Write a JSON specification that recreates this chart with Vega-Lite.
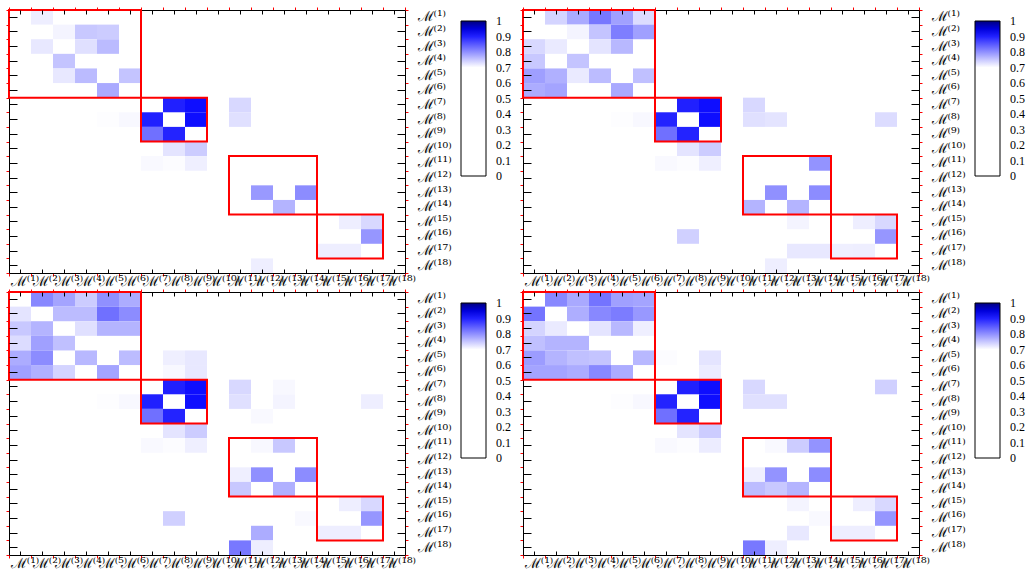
{
"$schema": "https://vega.github.io/schema/vega-lite/v6.json",
"background": "white",
"padding": {"left": 5, "top": 6, "right": 5, "bottom": 5},
"columns": 2,
"spacing": {"row": 19, "column": 118},
"bounds": "flush",
"resolve": {"scale": {"color": "independent"}, "legend": {"color": "independent"}},
"config": {"view": {"stroke": null}, "font": "DejaVu Serif"},
"datasets": {
"boxes": [{"x0":0,"x1":6,"y0":0,"y1":6},{"x0":6,"x1":9,"y0":6,"y1":9},{"x0":10,"x1":14,"y0":10,"y1":14},{"x0":14,"x1":17,"y0":14,"y1":17}],
"p1": [{"r":1,"c":2,"v":0.715},
{"r":2,"c":3,"v":0.71},{"r":2,"c":4,"v":0.75},{"r":2,"c":5,"v":0.746},
{"r":3,"c":2,"v":0.721},{"r":3,"c":4,"v":0.728},{"r":3,"c":5,"v":0.761},
{"r":4,"c":3,"v":0.753},
{"r":5,"c":3,"v":0.721},{"r":5,"c":4,"v":0.761},{"r":5,"c":6,"v":0.753},
{"r":6,"c":5,"v":0.777},
{"r":7,"c":8,"v":0.901},{"r":7,"c":9,"v":0.917},{"r":7,"c":11,"v":0.735},
{"r":8,"c":5,"v":0.702},{"r":8,"c":6,"v":0.706},{"r":8,"c":7,"v":0.901},{"r":8,"c":9,"v":0.917},{"r":8,"c":11,"v":0.728},
{"r":9,"c":7,"v":0.829},{"r":9,"c":8,"v":0.898},
{"r":10,"c":8,"v":0.724},{"r":10,"c":9,"v":0.746},
{"r":11,"c":7,"v":0.705},{"r":11,"c":8,"v":0.703},{"r":11,"c":9,"v":0.714},
{"r":13,"c":12,"v":0.792},{"r":13,"c":14,"v":0.804},
{"r":14,"c":13,"v":0.768},
{"r":15,"c":16,"v":0.715},{"r":15,"c":17,"v":0.735},
{"r":16,"c":17,"v":0.795},
{"r":17,"c":15,"v":0.715},{"r":17,"c":16,"v":0.715},
{"r":18,"c":12,"v":0.715}],
"p2": [{"r":1,"c":2,"v":0.739},{"r":1,"c":3,"v":0.777},{"r":1,"c":4,"v":0.823},{"r":1,"c":5,"v":0.786},{"r":1,"c":6,"v":0.732},
{"r":2,"c":3,"v":0.71},{"r":2,"c":4,"v":0.753},{"r":2,"c":5,"v":0.816},{"r":2,"c":6,"v":0.786},
{"r":3,"c":1,"v":0.735},{"r":3,"c":2,"v":0.719},{"r":3,"c":4,"v":0.724},{"r":3,"c":5,"v":0.764},
{"r":4,"c":1,"v":0.75},{"r":4,"c":3,"v":0.753},
{"r":5,"c":1,"v":0.787},{"r":5,"c":2,"v":0.771},{"r":5,"c":3,"v":0.719},{"r":5,"c":4,"v":0.76},{"r":5,"c":6,"v":0.757},
{"r":6,"c":1,"v":0.775},{"r":6,"c":2,"v":0.782},{"r":6,"c":5,"v":0.778},
{"r":7,"c":8,"v":0.901},{"r":7,"c":9,"v":0.917},{"r":7,"c":11,"v":0.735},
{"r":8,"c":5,"v":0.702},{"r":8,"c":6,"v":0.706},{"r":8,"c":7,"v":0.898},{"r":8,"c":9,"v":0.917},{"r":8,"c":11,"v":0.728},{"r":8,"c":12,"v":0.724},{"r":8,"c":17,"v":0.732},
{"r":9,"c":7,"v":0.829},{"r":9,"c":8,"v":0.898},
{"r":10,"c":8,"v":0.724},{"r":10,"c":9,"v":0.746},
{"r":11,"c":7,"v":0.705},{"r":11,"c":8,"v":0.703},{"r":11,"c":9,"v":0.714},{"r":11,"c":14,"v":0.797},
{"r":13,"c":12,"v":0.8},{"r":13,"c":14,"v":0.804},
{"r":14,"c":11,"v":0.768},{"r":14,"c":13,"v":0.768},
{"r":15,"c":13,"v":0.71},{"r":15,"c":16,"v":0.715},{"r":15,"c":17,"v":0.735},
{"r":16,"c":8,"v":0.742},{"r":16,"c":17,"v":0.795},
{"r":17,"c":13,"v":0.721},{"r":17,"c":14,"v":0.721},{"r":17,"c":15,"v":0.714},{"r":17,"c":16,"v":0.715},
{"r":18,"c":12,"v":0.715}],
"p3": [{"r":1,"c":2,"v":0.807},{"r":1,"c":3,"v":0.782},{"r":1,"c":4,"v":0.746},{"r":1,"c":5,"v":0.8},{"r":1,"c":6,"v":0.775},
{"r":2,"c":1,"v":0.724},{"r":2,"c":3,"v":0.76},{"r":2,"c":4,"v":0.76},{"r":2,"c":5,"v":0.829},{"r":2,"c":6,"v":0.804},
{"r":3,"c":1,"v":0.75},{"r":3,"c":2,"v":0.768},{"r":3,"c":4,"v":0.728},{"r":3,"c":5,"v":0.768},{"r":3,"c":6,"v":0.768},
{"r":4,"c":1,"v":0.732},{"r":4,"c":2,"v":0.786},{"r":4,"c":3,"v":0.757},
{"r":5,"c":1,"v":0.775},{"r":5,"c":2,"v":0.804},{"r":5,"c":4,"v":0.764},{"r":5,"c":6,"v":0.76},{"r":5,"c":8,"v":0.714},{"r":5,"c":9,"v":0.721},
{"r":6,"c":1,"v":0.786},{"r":6,"c":2,"v":0.771},{"r":6,"c":3,"v":0.739},{"r":6,"c":5,"v":0.782},{"r":6,"c":8,"v":0.706},{"r":6,"c":9,"v":0.721},
{"r":7,"c":8,"v":0.901},{"r":7,"c":9,"v":0.917},{"r":7,"c":11,"v":0.735},{"r":7,"c":13,"v":0.706},
{"r":8,"c":5,"v":0.702},{"r":8,"c":6,"v":0.706},{"r":8,"c":7,"v":0.901},{"r":8,"c":9,"v":0.917},{"r":8,"c":11,"v":0.728},{"r":8,"c":13,"v":0.71},{"r":8,"c":17,"v":0.715},
{"r":9,"c":7,"v":0.829},{"r":9,"c":8,"v":0.898},{"r":9,"c":12,"v":0.705},
{"r":10,"c":8,"v":0.724},{"r":10,"c":9,"v":0.746},
{"r":11,"c":7,"v":0.705},{"r":11,"c":8,"v":0.703},{"r":11,"c":9,"v":0.714},{"r":11,"c":12,"v":0.706},{"r":11,"c":13,"v":0.75},
{"r":13,"c":11,"v":0.714},{"r":13,"c":12,"v":0.8},{"r":13,"c":14,"v":0.804},
{"r":14,"c":11,"v":0.75},{"r":14,"c":13,"v":0.771},
{"r":15,"c":16,"v":0.715},{"r":15,"c":17,"v":0.735},
{"r":16,"c":8,"v":0.742},{"r":16,"c":14,"v":0.705},{"r":16,"c":17,"v":0.795},
{"r":17,"c":12,"v":0.775},{"r":17,"c":15,"v":0.715},{"r":17,"c":16,"v":0.715},
{"r":18,"c":11,"v":0.822},{"r":18,"c":12,"v":0.715}],
"p4": [{"r":1,"c":2,"v":0.807},{"r":1,"c":3,"v":0.778},{"r":1,"c":4,"v":0.825},{"r":1,"c":5,"v":0.786},{"r":1,"c":6,"v":0.782},
{"r":2,"c":1,"v":0.825},{"r":2,"c":3,"v":0.773},{"r":2,"c":4,"v":0.807},{"r":2,"c":5,"v":0.818},{"r":2,"c":6,"v":0.793},
{"r":3,"c":1,"v":0.739},{"r":3,"c":2,"v":0.719},{"r":3,"c":4,"v":0.724},{"r":3,"c":5,"v":0.764},{"r":3,"c":6,"v":0.714},
{"r":4,"c":1,"v":0.757},{"r":4,"c":2,"v":0.768},{"r":4,"c":3,"v":0.768},
{"r":5,"c":1,"v":0.789},{"r":5,"c":2,"v":0.768},{"r":5,"c":3,"v":0.757},{"r":5,"c":4,"v":0.753},{"r":5,"c":6,"v":0.764},{"r":5,"c":7,"v":0.703},{"r":5,"c":9,"v":0.724},
{"r":6,"c":1,"v":0.782},{"r":6,"c":2,"v":0.782},{"r":6,"c":3,"v":0.775},{"r":6,"c":4,"v":0.807},{"r":6,"c":5,"v":0.775},{"r":6,"c":9,"v":0.717},
{"r":7,"c":8,"v":0.901},{"r":7,"c":9,"v":0.917},{"r":7,"c":11,"v":0.735},{"r":7,"c":17,"v":0.742},
{"r":8,"c":5,"v":0.702},{"r":8,"c":6,"v":0.706},{"r":8,"c":7,"v":0.898},{"r":8,"c":9,"v":0.917},{"r":8,"c":11,"v":0.728},{"r":8,"c":12,"v":0.728},
{"r":9,"c":7,"v":0.829},{"r":9,"c":8,"v":0.898},
{"r":10,"c":8,"v":0.724},{"r":10,"c":9,"v":0.746},
{"r":11,"c":7,"v":0.705},{"r":11,"c":8,"v":0.703},{"r":11,"c":9,"v":0.717},{"r":11,"c":12,"v":0.705},{"r":11,"c":13,"v":0.746},{"r":11,"c":14,"v":0.797},
{"r":13,"c":11,"v":0.714},{"r":13,"c":12,"v":0.797},{"r":13,"c":14,"v":0.804},
{"r":14,"c":11,"v":0.76},{"r":14,"c":12,"v":0.75},{"r":14,"c":13,"v":0.768},
{"r":15,"c":13,"v":0.71},{"r":15,"c":16,"v":0.715},{"r":15,"c":17,"v":0.735},
{"r":16,"c":14,"v":0.705},{"r":16,"c":17,"v":0.795},
{"r":17,"c":13,"v":0.721},{"r":17,"c":15,"v":0.715},{"r":17,"c":16,"v":0.715},
{"r":18,"c":11,"v":0.822},{"r":18,"c":12,"v":0.715}]
},
"concat": [
{"width":396,"height":263,
 "resolve":{"scale":{"x":"independent","y":"independent"},"axis":{"x":"independent","y":"independent"}},
 "layer":[
  {"data":{"name":"p1"},"mark":{"type":"rect"},
   "encoding":{
    "x":{"field":"c","type":"ordinal","scale":{"domain":[1,2,3,4,5,6,7,8,9,10,11,12,13,14,15,16,17,18],"paddingInner":0,"paddingOuter":0},"axis":{"orient":"bottom","title":null,"domain":false,"ticks":false,"tickSize":0,"tickBand":"center","bandPosition":0.5,"labelExpr":"['ℳ⁽¹⁾','ℳ⁽²⁾','ℳ⁽³⁾','ℳ⁽⁴⁾','ℳ⁽⁵⁾','ℳ⁽⁶⁾','ℳ⁽⁷⁾','ℳ⁽⁸⁾','ℳ⁽⁹⁾','ℳ⁽¹⁰⁾','ℳ⁽¹¹⁾','ℳ⁽¹²⁾','ℳ⁽¹³⁾','ℳ⁽¹⁴⁾','ℳ⁽¹⁵⁾','ℳ⁽¹⁶⁾','ℳ⁽¹⁷⁾','ℳ⁽¹⁸⁾'][datum.value-1]","labelFont":"DejaVu Serif","labelFontSize":14,"labelColor":"black","labelOverlap":false,"labelAngle":0,"labelPadding":1,"labelOffset":5,"grid":true,"gridColor":"black","gridOpacity":1,"gridWidth":1,"gridDash":[4,255,4,2000],"zindex":1}},
    "y":{"field":"r","type":"ordinal","scale":{"domain":[1,2,3,4,5,6,7,8,9,10,11,12,13,14,15,16,17,18],"paddingInner":0,"paddingOuter":0},"axis":{"orient":"right","title":null,"domain":false,"ticks":false,"tickSize":0,"tickBand":"center","bandPosition":0.5,"labelExpr":"['ℳ⁽¹⁾','ℳ⁽²⁾','ℳ⁽³⁾','ℳ⁽⁴⁾','ℳ⁽⁵⁾','ℳ⁽⁶⁾','ℳ⁽⁷⁾','ℳ⁽⁸⁾','ℳ⁽⁹⁾','ℳ⁽¹⁰⁾','ℳ⁽¹¹⁾','ℳ⁽¹²⁾','ℳ⁽¹³⁾','ℳ⁽¹⁴⁾','ℳ⁽¹⁵⁾','ℳ⁽¹⁶⁾','ℳ⁽¹⁷⁾','ℳ⁽¹⁸⁾'][datum.value-1]","labelFont":"DejaVu Serif","labelFontSize":14,"labelColor":"black","labelOverlap":false,"labelPadding":12,"grid":true,"gridColor":"black","gridOpacity":1,"gridWidth":1,"gridDash":[8,380,8,2000],"zindex":1}},
    "color":{"field":"v","type":"quantitative","scale":{"domain":[0,0.7,0.93,1],"range":["#ffffff","#ffffff","#0000ff","#000080"],"interpolate":"rgb"},"legend":{"title":null,"orient":"right","direction":"vertical","gradientLength":155,"gradientThickness":25,"gradientStrokeColor":"black","gradientStrokeWidth":1,"values":[0,0.1,0.2,0.3,0.4,0.5,0.6,0.7,0.8,0.9,1],"format":"~g","labelFont":"Liberation Serif","labelFontSize":12,"labelColor":"black","labelOffset":10,"labelOverlap":false,"labelBaseline":"middle","offset":-2,"padding":11,"encode":{"labels":{"update":{"baseline":{"value":"middle"}}}}}}}},
  {"data":{"name":"boxes"},"mark":{"type":"rect","filled":false,"color":"#ff0000","strokeWidth":2},
   "encoding":{
    "x":{"field":"x0","type":"quantitative","scale":{"domain":[0,18],"nice":false,"zero":false},"axis":{"orient":"bottom","title":null,"values":[0,1,2,3,4,5,6,7,8,9,10,11,12,13,14,15,16,17,18],"labels":false,"domain":true,"domainColor":"black","domainWidth":1,"ticks":true,"tickColor":"#ff0000","tickSize":3,"tickWidth":1,"grid":false,"zindex":0}},
    "x2":{"field":"x1"},
    "y":{"field":"y0","type":"quantitative","scale":{"domain":[0,18],"nice":false,"zero":false,"reverse":true},"axis":{"orient":"left","title":null,"values":[0,1,2,3,4,5,6,7,8,9,10,11,12,13,14,15,16,17,18],"labels":false,"domain":true,"domainColor":"black","domainWidth":1,"ticks":true,"tickColor":"#ff0000","tickSize":3,"tickWidth":1,"grid":false,"zindex":0}},
    "y2":{"field":"y1"}}},
  {"data":{"name":"boxes"},"mark":{"type":"rect","filled":false,"color":"#ff0000","strokeWidth":2,"opacity":0},
   "encoding":{
    "x":{"field":"x0","type":"quantitative","scale":{"domain":[0,18],"nice":false,"zero":false},"axis":{"orient":"top","title":null,"values":[0,1,2,3,4,5,6,7,8,9,10,11,12,13,14,15,16,17,18],"labels":false,"domain":true,"domainColor":"black","domainWidth":1,"ticks":true,"tickColor":"#ff0000","tickSize":3,"tickWidth":1,"grid":false,"zindex":0}},
    "x2":{"field":"x1"},
    "y":{"field":"y0","type":"quantitative","scale":{"domain":[0,18],"nice":false,"zero":false,"reverse":true},"axis":{"orient":"right","title":null,"values":[0,1,2,3,4,5,6,7,8,9,10,11,12,13,14,15,16,17,18],"labels":false,"domain":true,"domainColor":"black","domainWidth":1,"ticks":true,"tickColor":"#ff0000","tickSize":3,"tickWidth":1,"grid":false,"zindex":0}},
    "y2":{"field":"y1"}}}
 ]},
{"width":396,"height":263,
 "resolve":{"scale":{"x":"independent","y":"independent"},"axis":{"x":"independent","y":"independent"}},
 "layer":[
  {"data":{"name":"p2"},"mark":{"type":"rect"},
   "encoding":{
    "x":{"field":"c","type":"ordinal","scale":{"domain":[1,2,3,4,5,6,7,8,9,10,11,12,13,14,15,16,17,18],"paddingInner":0,"paddingOuter":0},"axis":{"orient":"bottom","title":null,"domain":false,"ticks":false,"tickSize":0,"tickBand":"center","bandPosition":0.5,"labelExpr":"['ℳ⁽¹⁾','ℳ⁽²⁾','ℳ⁽³⁾','ℳ⁽⁴⁾','ℳ⁽⁵⁾','ℳ⁽⁶⁾','ℳ⁽⁷⁾','ℳ⁽⁸⁾','ℳ⁽⁹⁾','ℳ⁽¹⁰⁾','ℳ⁽¹¹⁾','ℳ⁽¹²⁾','ℳ⁽¹³⁾','ℳ⁽¹⁴⁾','ℳ⁽¹⁵⁾','ℳ⁽¹⁶⁾','ℳ⁽¹⁷⁾','ℳ⁽¹⁸⁾'][datum.value-1]","labelFont":"DejaVu Serif","labelFontSize":14,"labelColor":"black","labelOverlap":false,"labelAngle":0,"labelPadding":1,"labelOffset":5,"grid":true,"gridColor":"black","gridOpacity":1,"gridWidth":1,"gridDash":[4,255,4,2000],"zindex":1}},
    "y":{"field":"r","type":"ordinal","scale":{"domain":[1,2,3,4,5,6,7,8,9,10,11,12,13,14,15,16,17,18],"paddingInner":0,"paddingOuter":0},"axis":{"orient":"right","title":null,"domain":false,"ticks":false,"tickSize":0,"tickBand":"center","bandPosition":0.5,"labelExpr":"['ℳ⁽¹⁾','ℳ⁽²⁾','ℳ⁽³⁾','ℳ⁽⁴⁾','ℳ⁽⁵⁾','ℳ⁽⁶⁾','ℳ⁽⁷⁾','ℳ⁽⁸⁾','ℳ⁽⁹⁾','ℳ⁽¹⁰⁾','ℳ⁽¹¹⁾','ℳ⁽¹²⁾','ℳ⁽¹³⁾','ℳ⁽¹⁴⁾','ℳ⁽¹⁵⁾','ℳ⁽¹⁶⁾','ℳ⁽¹⁷⁾','ℳ⁽¹⁸⁾'][datum.value-1]","labelFont":"DejaVu Serif","labelFontSize":14,"labelColor":"black","labelOverlap":false,"labelPadding":12,"grid":true,"gridColor":"black","gridOpacity":1,"gridWidth":1,"gridDash":[8,380,8,2000],"zindex":1}},
    "color":{"field":"v","type":"quantitative","scale":{"domain":[0,0.7,0.93,1],"range":["#ffffff","#ffffff","#0000ff","#000080"],"interpolate":"rgb"},"legend":{"title":null,"orient":"right","direction":"vertical","gradientLength":155,"gradientThickness":25,"gradientStrokeColor":"black","gradientStrokeWidth":1,"values":[0,0.1,0.2,0.3,0.4,0.5,0.6,0.7,0.8,0.9,1],"format":"~g","labelFont":"Liberation Serif","labelFontSize":12,"labelColor":"black","labelOffset":10,"labelOverlap":false,"labelBaseline":"middle","offset":-2,"padding":11,"encode":{"labels":{"update":{"baseline":{"value":"middle"}}}}}}}},
  {"data":{"name":"boxes"},"mark":{"type":"rect","filled":false,"color":"#ff0000","strokeWidth":2},
   "encoding":{
    "x":{"field":"x0","type":"quantitative","scale":{"domain":[0,18],"nice":false,"zero":false},"axis":{"orient":"bottom","title":null,"values":[0,1,2,3,4,5,6,7,8,9,10,11,12,13,14,15,16,17,18],"labels":false,"domain":true,"domainColor":"black","domainWidth":1,"ticks":true,"tickColor":"#ff0000","tickSize":3,"tickWidth":1,"grid":false,"zindex":0}},
    "x2":{"field":"x1"},
    "y":{"field":"y0","type":"quantitative","scale":{"domain":[0,18],"nice":false,"zero":false,"reverse":true},"axis":{"orient":"left","title":null,"values":[0,1,2,3,4,5,6,7,8,9,10,11,12,13,14,15,16,17,18],"labels":false,"domain":true,"domainColor":"black","domainWidth":1,"ticks":true,"tickColor":"#ff0000","tickSize":3,"tickWidth":1,"grid":false,"zindex":0}},
    "y2":{"field":"y1"}}},
  {"data":{"name":"boxes"},"mark":{"type":"rect","filled":false,"color":"#ff0000","strokeWidth":2,"opacity":0},
   "encoding":{
    "x":{"field":"x0","type":"quantitative","scale":{"domain":[0,18],"nice":false,"zero":false},"axis":{"orient":"top","title":null,"values":[0,1,2,3,4,5,6,7,8,9,10,11,12,13,14,15,16,17,18],"labels":false,"domain":true,"domainColor":"black","domainWidth":1,"ticks":true,"tickColor":"#ff0000","tickSize":3,"tickWidth":1,"grid":false,"zindex":0}},
    "x2":{"field":"x1"},
    "y":{"field":"y0","type":"quantitative","scale":{"domain":[0,18],"nice":false,"zero":false,"reverse":true},"axis":{"orient":"right","title":null,"values":[0,1,2,3,4,5,6,7,8,9,10,11,12,13,14,15,16,17,18],"labels":false,"domain":true,"domainColor":"black","domainWidth":1,"ticks":true,"tickColor":"#ff0000","tickSize":3,"tickWidth":1,"grid":false,"zindex":0}},
    "y2":{"field":"y1"}}}
 ]},
{"width":396,"height":263,
 "resolve":{"scale":{"x":"independent","y":"independent"},"axis":{"x":"independent","y":"independent"}},
 "layer":[
  {"data":{"name":"p3"},"mark":{"type":"rect"},
   "encoding":{
    "x":{"field":"c","type":"ordinal","scale":{"domain":[1,2,3,4,5,6,7,8,9,10,11,12,13,14,15,16,17,18],"paddingInner":0,"paddingOuter":0},"axis":{"orient":"bottom","title":null,"domain":false,"ticks":false,"tickSize":0,"tickBand":"center","bandPosition":0.5,"labelExpr":"['ℳ⁽¹⁾','ℳ⁽²⁾','ℳ⁽³⁾','ℳ⁽⁴⁾','ℳ⁽⁵⁾','ℳ⁽⁶⁾','ℳ⁽⁷⁾','ℳ⁽⁸⁾','ℳ⁽⁹⁾','ℳ⁽¹⁰⁾','ℳ⁽¹¹⁾','ℳ⁽¹²⁾','ℳ⁽¹³⁾','ℳ⁽¹⁴⁾','ℳ⁽¹⁵⁾','ℳ⁽¹⁶⁾','ℳ⁽¹⁷⁾','ℳ⁽¹⁸⁾'][datum.value-1]","labelFont":"DejaVu Serif","labelFontSize":14,"labelColor":"black","labelOverlap":false,"labelAngle":0,"labelPadding":1,"labelOffset":5,"grid":true,"gridColor":"black","gridOpacity":1,"gridWidth":1,"gridDash":[4,255,4,2000],"zindex":1}},
    "y":{"field":"r","type":"ordinal","scale":{"domain":[1,2,3,4,5,6,7,8,9,10,11,12,13,14,15,16,17,18],"paddingInner":0,"paddingOuter":0},"axis":{"orient":"right","title":null,"domain":false,"ticks":false,"tickSize":0,"tickBand":"center","bandPosition":0.5,"labelExpr":"['ℳ⁽¹⁾','ℳ⁽²⁾','ℳ⁽³⁾','ℳ⁽⁴⁾','ℳ⁽⁵⁾','ℳ⁽⁶⁾','ℳ⁽⁷⁾','ℳ⁽⁸⁾','ℳ⁽⁹⁾','ℳ⁽¹⁰⁾','ℳ⁽¹¹⁾','ℳ⁽¹²⁾','ℳ⁽¹³⁾','ℳ⁽¹⁴⁾','ℳ⁽¹⁵⁾','ℳ⁽¹⁶⁾','ℳ⁽¹⁷⁾','ℳ⁽¹⁸⁾'][datum.value-1]","labelFont":"DejaVu Serif","labelFontSize":14,"labelColor":"black","labelOverlap":false,"labelPadding":12,"grid":true,"gridColor":"black","gridOpacity":1,"gridWidth":1,"gridDash":[8,380,8,2000],"zindex":1}},
    "color":{"field":"v","type":"quantitative","scale":{"domain":[0,0.7,0.93,1],"range":["#ffffff","#ffffff","#0000ff","#000080"],"interpolate":"rgb"},"legend":{"title":null,"orient":"right","direction":"vertical","gradientLength":155,"gradientThickness":25,"gradientStrokeColor":"black","gradientStrokeWidth":1,"values":[0,0.1,0.2,0.3,0.4,0.5,0.6,0.7,0.8,0.9,1],"format":"~g","labelFont":"Liberation Serif","labelFontSize":12,"labelColor":"black","labelOffset":10,"labelOverlap":false,"labelBaseline":"middle","offset":-2,"padding":11,"encode":{"labels":{"update":{"baseline":{"value":"middle"}}}}}}}},
  {"data":{"name":"boxes"},"mark":{"type":"rect","filled":false,"color":"#ff0000","strokeWidth":2},
   "encoding":{
    "x":{"field":"x0","type":"quantitative","scale":{"domain":[0,18],"nice":false,"zero":false},"axis":{"orient":"bottom","title":null,"values":[0,1,2,3,4,5,6,7,8,9,10,11,12,13,14,15,16,17,18],"labels":false,"domain":true,"domainColor":"black","domainWidth":1,"ticks":true,"tickColor":"#ff0000","tickSize":3,"tickWidth":1,"grid":false,"zindex":0}},
    "x2":{"field":"x1"},
    "y":{"field":"y0","type":"quantitative","scale":{"domain":[0,18],"nice":false,"zero":false,"reverse":true},"axis":{"orient":"left","title":null,"values":[0,1,2,3,4,5,6,7,8,9,10,11,12,13,14,15,16,17,18],"labels":false,"domain":true,"domainColor":"black","domainWidth":1,"ticks":true,"tickColor":"#ff0000","tickSize":3,"tickWidth":1,"grid":false,"zindex":0}},
    "y2":{"field":"y1"}}},
  {"data":{"name":"boxes"},"mark":{"type":"rect","filled":false,"color":"#ff0000","strokeWidth":2,"opacity":0},
   "encoding":{
    "x":{"field":"x0","type":"quantitative","scale":{"domain":[0,18],"nice":false,"zero":false},"axis":{"orient":"top","title":null,"values":[0,1,2,3,4,5,6,7,8,9,10,11,12,13,14,15,16,17,18],"labels":false,"domain":true,"domainColor":"black","domainWidth":1,"ticks":true,"tickColor":"#ff0000","tickSize":3,"tickWidth":1,"grid":false,"zindex":0}},
    "x2":{"field":"x1"},
    "y":{"field":"y0","type":"quantitative","scale":{"domain":[0,18],"nice":false,"zero":false,"reverse":true},"axis":{"orient":"right","title":null,"values":[0,1,2,3,4,5,6,7,8,9,10,11,12,13,14,15,16,17,18],"labels":false,"domain":true,"domainColor":"black","domainWidth":1,"ticks":true,"tickColor":"#ff0000","tickSize":3,"tickWidth":1,"grid":false,"zindex":0}},
    "y2":{"field":"y1"}}}
 ]},
{"width":396,"height":263,
 "resolve":{"scale":{"x":"independent","y":"independent"},"axis":{"x":"independent","y":"independent"}},
 "layer":[
  {"data":{"name":"p4"},"mark":{"type":"rect"},
   "encoding":{
    "x":{"field":"c","type":"ordinal","scale":{"domain":[1,2,3,4,5,6,7,8,9,10,11,12,13,14,15,16,17,18],"paddingInner":0,"paddingOuter":0},"axis":{"orient":"bottom","title":null,"domain":false,"ticks":false,"tickSize":0,"tickBand":"center","bandPosition":0.5,"labelExpr":"['ℳ⁽¹⁾','ℳ⁽²⁾','ℳ⁽³⁾','ℳ⁽⁴⁾','ℳ⁽⁵⁾','ℳ⁽⁶⁾','ℳ⁽⁷⁾','ℳ⁽⁸⁾','ℳ⁽⁹⁾','ℳ⁽¹⁰⁾','ℳ⁽¹¹⁾','ℳ⁽¹²⁾','ℳ⁽¹³⁾','ℳ⁽¹⁴⁾','ℳ⁽¹⁵⁾','ℳ⁽¹⁶⁾','ℳ⁽¹⁷⁾','ℳ⁽¹⁸⁾'][datum.value-1]","labelFont":"DejaVu Serif","labelFontSize":14,"labelColor":"black","labelOverlap":false,"labelAngle":0,"labelPadding":1,"labelOffset":5,"grid":true,"gridColor":"black","gridOpacity":1,"gridWidth":1,"gridDash":[4,255,4,2000],"zindex":1}},
    "y":{"field":"r","type":"ordinal","scale":{"domain":[1,2,3,4,5,6,7,8,9,10,11,12,13,14,15,16,17,18],"paddingInner":0,"paddingOuter":0},"axis":{"orient":"right","title":null,"domain":false,"ticks":false,"tickSize":0,"tickBand":"center","bandPosition":0.5,"labelExpr":"['ℳ⁽¹⁾','ℳ⁽²⁾','ℳ⁽³⁾','ℳ⁽⁴⁾','ℳ⁽⁵⁾','ℳ⁽⁶⁾','ℳ⁽⁷⁾','ℳ⁽⁸⁾','ℳ⁽⁹⁾','ℳ⁽¹⁰⁾','ℳ⁽¹¹⁾','ℳ⁽¹²⁾','ℳ⁽¹³⁾','ℳ⁽¹⁴⁾','ℳ⁽¹⁵⁾','ℳ⁽¹⁶⁾','ℳ⁽¹⁷⁾','ℳ⁽¹⁸⁾'][datum.value-1]","labelFont":"DejaVu Serif","labelFontSize":14,"labelColor":"black","labelOverlap":false,"labelPadding":12,"grid":true,"gridColor":"black","gridOpacity":1,"gridWidth":1,"gridDash":[8,380,8,2000],"zindex":1}},
    "color":{"field":"v","type":"quantitative","scale":{"domain":[0,0.7,0.93,1],"range":["#ffffff","#ffffff","#0000ff","#000080"],"interpolate":"rgb"},"legend":{"title":null,"orient":"right","direction":"vertical","gradientLength":155,"gradientThickness":25,"gradientStrokeColor":"black","gradientStrokeWidth":1,"values":[0,0.1,0.2,0.3,0.4,0.5,0.6,0.7,0.8,0.9,1],"format":"~g","labelFont":"Liberation Serif","labelFontSize":12,"labelColor":"black","labelOffset":10,"labelOverlap":false,"labelBaseline":"middle","offset":-2,"padding":11,"encode":{"labels":{"update":{"baseline":{"value":"middle"}}}}}}}},
  {"data":{"name":"boxes"},"mark":{"type":"rect","filled":false,"color":"#ff0000","strokeWidth":2},
   "encoding":{
    "x":{"field":"x0","type":"quantitative","scale":{"domain":[0,18],"nice":false,"zero":false},"axis":{"orient":"bottom","title":null,"values":[0,1,2,3,4,5,6,7,8,9,10,11,12,13,14,15,16,17,18],"labels":false,"domain":true,"domainColor":"black","domainWidth":1,"ticks":true,"tickColor":"#ff0000","tickSize":3,"tickWidth":1,"grid":false,"zindex":0}},
    "x2":{"field":"x1"},
    "y":{"field":"y0","type":"quantitative","scale":{"domain":[0,18],"nice":false,"zero":false,"reverse":true},"axis":{"orient":"left","title":null,"values":[0,1,2,3,4,5,6,7,8,9,10,11,12,13,14,15,16,17,18],"labels":false,"domain":true,"domainColor":"black","domainWidth":1,"ticks":true,"tickColor":"#ff0000","tickSize":3,"tickWidth":1,"grid":false,"zindex":0}},
    "y2":{"field":"y1"}}},
  {"data":{"name":"boxes"},"mark":{"type":"rect","filled":false,"color":"#ff0000","strokeWidth":2,"opacity":0},
   "encoding":{
    "x":{"field":"x0","type":"quantitative","scale":{"domain":[0,18],"nice":false,"zero":false},"axis":{"orient":"top","title":null,"values":[0,1,2,3,4,5,6,7,8,9,10,11,12,13,14,15,16,17,18],"labels":false,"domain":true,"domainColor":"black","domainWidth":1,"ticks":true,"tickColor":"#ff0000","tickSize":3,"tickWidth":1,"grid":false,"zindex":0}},
    "x2":{"field":"x1"},
    "y":{"field":"y0","type":"quantitative","scale":{"domain":[0,18],"nice":false,"zero":false,"reverse":true},"axis":{"orient":"right","title":null,"values":[0,1,2,3,4,5,6,7,8,9,10,11,12,13,14,15,16,17,18],"labels":false,"domain":true,"domainColor":"black","domainWidth":1,"ticks":true,"tickColor":"#ff0000","tickSize":3,"tickWidth":1,"grid":false,"zindex":0}},
    "y2":{"field":"y1"}}}
 ]}
]
}
